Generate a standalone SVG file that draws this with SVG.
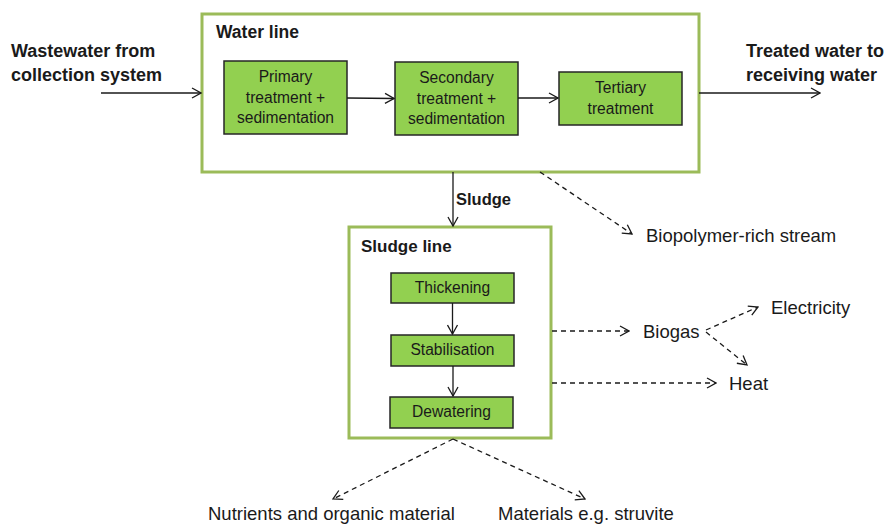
<svg xmlns="http://www.w3.org/2000/svg" width="885" height="525" viewBox="0 0 885 525">
<style>
text{font-family:"Liberation Sans",Arial,sans-serif;fill:#1a1a1a;}
.b{font-weight:bold;font-size:18px;}
.t{font-size:15.6px;text-anchor:middle;}
.o{font-size:18.5px;}
.frame{fill:#fff;stroke:#9BBB59;stroke-width:3;}
.box{fill:#92D050;stroke:#262626;stroke-width:1.5;}
.c{fill:none;stroke:#1a1a1a;stroke-width:1.3;}
.d{stroke-dasharray:5,4;}
</style>
<defs>
<marker id="ah" viewBox="0 0 12 12" refX="11" refY="6" markerWidth="12" markerHeight="12" markerUnits="userSpaceOnUse" orient="auto">
<path d="M2,1 L11,6 L2,11" fill="none" stroke="#1a1a1a" stroke-width="1.3"/>
</marker>
</defs>
<g id="water-line">
<rect class="frame" x="202" y="14" width="497" height="158"/>
<text class="b" x="216" y="38" style="font-size:17.5px">Water line</text>
</g>
<g id="primary">
<rect class="box" x="224" y="61" width="123" height="73"/>
<text class="t" x="285.5" y="82">Primary</text>
<text class="t" x="285.5" y="103">treatment +</text>
<text class="t" x="285.5" y="123">sedimentation</text>
</g>
<g id="secondary">
<rect class="box" x="395" y="62" width="123" height="73"/>
<text class="t" x="456.5" y="83">Secondary</text>
<text class="t" x="456.5" y="104">treatment +</text>
<text class="t" x="456.5" y="124">sedimentation</text>
</g>
<g id="tertiary">
<rect class="box" x="559" y="72" width="123" height="53"/>
<text class="t" x="620.5" y="93">Tertiary</text>
<text class="t" x="620.5" y="114">treatment</text>
</g>
<g id="sludge-line">
<rect class="frame" x="349" y="227" width="202" height="211"/>
<text class="b" x="361" y="252" style="font-size:17px">Sludge line</text>
</g>
<g id="thickening">
<rect class="box" x="391" y="273" width="123" height="30"/>
<text class="t" x="452.5" y="293">Thickening</text>
</g>
<g id="stabilisation">
<rect class="box" x="391" y="335" width="123" height="31"/>
<text class="t" x="452.5" y="355">Stabilisation</text>
</g>
<g id="dewatering">
<rect class="box" x="390" y="397" width="123" height="31"/>
<text class="t" x="451.5" y="417">Dewatering</text>
</g>
<g id="inflow">
<text class="b" x="11" y="57">Wastewater from</text>
<text class="b" x="11" y="81">collection system</text>
</g>
<g id="outflow">
<text class="b" x="746" y="57">Treated water to</text>
<text class="b" x="746" y="81">receiving water</text>
</g>
<g id="biopolymer"><text class="o" x="646" y="242">Biopolymer-rich stream</text></g>
<g id="biogas"><text class="o" x="643" y="338">Biogas</text></g>
<g id="electricity"><text class="o" x="771" y="314">Electricity</text></g>
<g id="heat"><text class="o" x="729" y="390">Heat</text></g>
<g id="nutrients"><text class="o" x="208" y="520">Nutrients and organic material</text></g>
<g id="materials"><text class="o" x="498" y="520">Materials e.g. struvite</text></g>
<g id="sludge-label"><text class="b" x="456" y="205" style="font-size:16.5px">Sludge</text></g>
<g id="connectors">
<line class="c" x1="101" y1="93" x2="201" y2="93" marker-end="url(#ah)"/>
<line class="c" x1="699" y1="93" x2="820" y2="93" marker-end="url(#ah)"/>
<line class="c" x1="347" y1="98" x2="394" y2="98.5" marker-end="url(#ah)"/>
<line class="c" x1="518" y1="98" x2="558" y2="98" marker-end="url(#ah)"/>
<line class="c" x1="453" y1="172" x2="453" y2="226" marker-end="url(#ah)"/>
<line class="c" x1="452.5" y1="303" x2="452.5" y2="334" marker-end="url(#ah)"/>
<line class="c" x1="453" y1="366" x2="453" y2="396" marker-end="url(#ah)"/>
<line class="c d" x1="540" y1="172" x2="632" y2="234" marker-end="url(#ah)"/>
<line class="c d" x1="552" y1="331" x2="629" y2="331" marker-end="url(#ah)"/>
<line class="c d" x1="706" y1="330" x2="758" y2="307" marker-end="url(#ah)"/>
<line class="c d" x1="706" y1="332" x2="747" y2="365" marker-end="url(#ah)"/>
<line class="c d" x1="552" y1="383" x2="716" y2="383" marker-end="url(#ah)"/>
<line class="c d" x1="453" y1="439" x2="333" y2="499" marker-end="url(#ah)"/>
<line class="c d" x1="453" y1="439" x2="585" y2="499" marker-end="url(#ah)"/>
</g>
</svg>
